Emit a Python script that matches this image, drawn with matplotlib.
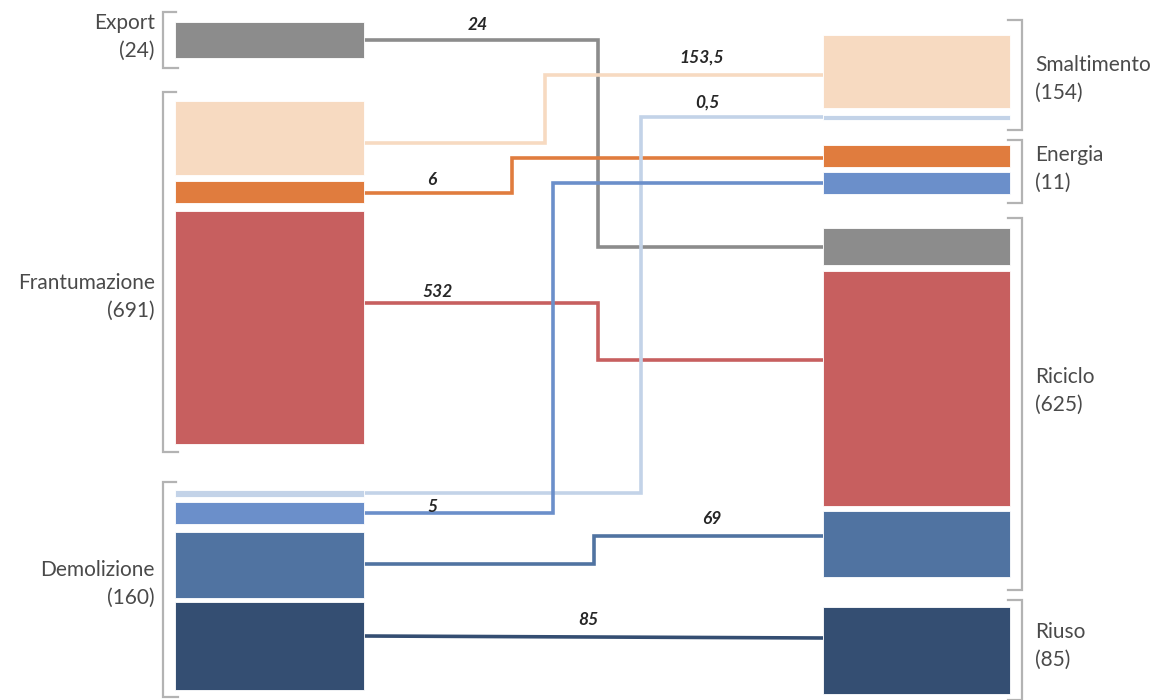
import matplotlib
matplotlib.use("Agg")
import matplotlib.pyplot as plt
from matplotlib.patches import Rectangle

# --- data -------------------------------------------------------------
left_nodes = ["Export", "Frantumazione", "Demolizione"]
left_totals = [24, 691, 160]
right_nodes = ["Smaltimento", "Energia", "Riciclo", "Riuso"]
right_totals = [154, 11, 625, 85]

flow_source = ["Export", "Frantumazione", "Frantumazione", "Frantumazione",
               "Demolizione", "Demolizione", "Demolizione", "Demolizione"]
flow_target = ["Riciclo", "Smaltimento", "Energia", "Riciclo",
               "Smaltimento", "Energia", "Riciclo", "Riuso"]
flow_values = [24, 153.5, 6, 532, 0.5, 5, 69, 85]
flow_colors = ["#8c8c8c", "#f7dac1", "#e07c3e", "#c75f5f",
               "#c3d3e8", "#6b8fca", "#5073a1", "#344e72"]

# --- layout (figure pixel coordinates, y grows downward) ---------------
LX0, LX1 = 175, 364          # left column of blocks
RX0, RX1 = 823, 1010         # right column of blocks
left_spans = [(22, 58), (101, 175), (181, 203), (211, 444),
              (490, 497), (502, 524), (532, 598), (602, 690)]
right_spans = [(228, 265), (35, 108), (145, 167), (271, 506),
               (115, 120), (172, 194), (511, 577), (607, 694)]
left_link_y = [40, 143, 193, 303, 493, 513, 564, 636]
right_link_y = [247, 75, 158, 360, 117, 183, 536, 638]
bend_x = [598, 545, 512, 598, 641, 553, 594, None]
label_pos = [(478, 25), (702, 58), (432, 180), (438, 292),
             (707, 103), (432, 507), (712, 519), (588, 620)]

left_groups = [(12, 68), (92, 452), (482, 697)]
left_label_y = [37, 297, 584]
right_groups = [(20, 130), (140, 203), (218, 590), (600, 700)]
right_label_y = [79, 169, 391, 646]

W, H = 1160, 700
fig = plt.figure(figsize=(W / 100, H / 100), dpi=100)
ax = fig.add_axes([0, 0, 1, 1])
ax.set_xlim(0, W)
ax.set_ylim(H, 0)
ax.axis("off")

FONT = ["Lato", "DejaVu Sans"]
TXT = "#4a4a4a"
BRACKET = "#b3b3b3"


def fmt(v):
    return (f"{v:g}").replace(".", ",")


# connecting lines
for i, v in enumerate(flow_values):
    y0, y1 = left_link_y[i], right_link_y[i]
    bx = bend_x[i]
    if bx is None:
        xs, ys = [LX1, RX0], [y0, y1]
    else:
        xs, ys = [LX1, bx, bx, RX0], [y0, y0, y1, y1]
    ax.plot(xs, ys, color=flow_colors[i], lw=2.6, solid_joinstyle="miter",
            solid_capstyle="butt", zorder=1)
    lx, ly = label_pos[i]
    ax.text(lx, ly, fmt(v), ha="center", va="center", fontsize=12.5,
            fontstyle="italic", fontweight="bold", color="#262626",
            family=FONT, zorder=3)

# blocks
for i in range(len(flow_values)):
    t, b = left_spans[i]
    ax.add_patch(Rectangle((LX0, t), LX1 - LX0, b - t, facecolor=flow_colors[i],
                           edgecolor="white", lw=0.6, zorder=2))
    t, b = right_spans[i]
    ax.add_patch(Rectangle((RX0, t), RX1 - RX0, b - t, facecolor=flow_colors[i],
                           edgecolor="white", lw=0.6, zorder=2))

# brackets and group labels, left side
for name, tot, (t, b), ly in zip(left_nodes, left_totals, left_groups, left_label_y):
    ax.plot([176, 163, 163, 178], [t, t, b, b], color=BRACKET, lw=1.6,
            solid_joinstyle="miter", zorder=1)
    ax.text(155, ly, f"{name}\n({tot})", ha="right", va="center", fontsize=15,
            color=TXT, family=FONT, linespacing=1.5)

# brackets and group labels, right side
for name, tot, (t, b), ly in zip(right_nodes, right_totals, right_groups, right_label_y):
    ax.plot([1008, 1022, 1022, 1008], [t, t, b, b], color=BRACKET, lw=1.6,
            solid_joinstyle="miter", zorder=1)
    ax.text(1035, ly, f"{name}\n({tot})", ha="left", va="center", fontsize=15,
            color=TXT, family=FONT, linespacing=1.5)

fig.savefig("out.png", dpi=100)
